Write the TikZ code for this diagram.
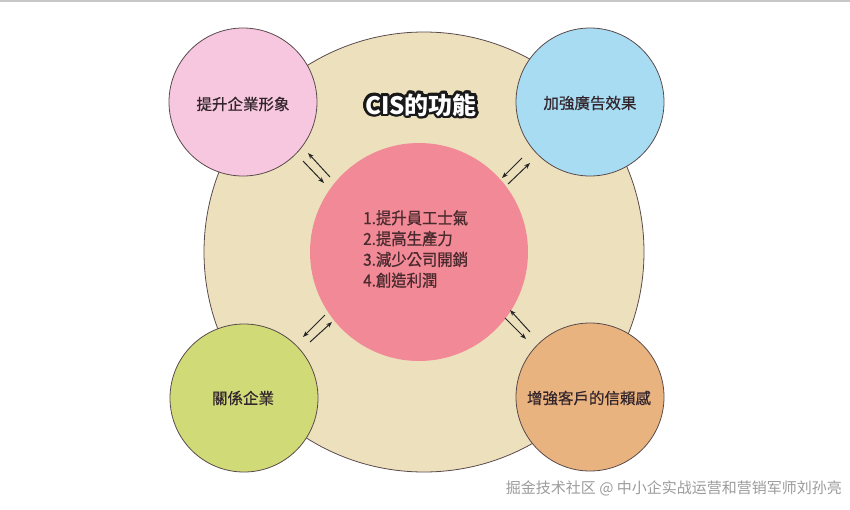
\documentclass[tikz,border=0pt]{standalone}
\usepackage{fontspec}
\newfontfamily\tcfont{Noto Sans CJK TC}
\newfontfamily\tcmed[FakeBold=0.6]{Noto Sans CJK TC}
\newfontfamily\tclist[FakeBold=0.9, FakeStretch=0.93]{Noto Sans CJK TC}
\newfontfamily\scfont{Noto Sans CJK SC}
\usetikzlibrary{arrows.meta}
\definecolor{beige}{HTML}{EDE1BD}
\definecolor{pinkl}{HTML}{F7C7DF}
\definecolor{bluel}{HTML}{A7DCF3}
\definecolor{greenl}{HTML}{D0DB78}
\definecolor{orangel}{HTML}{E9B37F}
\definecolor{pinkc}{HTML}{F18A96}
\definecolor{rim}{HTML}{5A4A4C}
\definecolor{ink}{HTML}{33252C}
\definecolor{listink}{HTML}{4A2A2E}
\definecolor{wm}{HTML}{9C9C9C}
\tikzset{
  ring/.style={circle, inner sep=0pt, draw=rim, line width=0.8pt},
  lbl/.style={font=\tcmed\fontsize{15.5}{18}\selectfont, text=ink, inner sep=0pt},
  ttl/.style={font=\tcfont\bfseries\fontsize{24}{28}\selectfont, inner sep=0pt},
  dbl/.style={draw=black!85, line width=1pt, -{Stealth[length=6pt,width=4.5pt]}},
}
\begin{document}
\begin{tikzpicture}[x=1pt,y=-1pt]
\useasboundingbox (0,0) rectangle (850,509);
\fill[white] (0,0) rectangle (850,509);
\draw[black!22, line width=1.5pt] (0,0.75) -- (850,0.75);
% circles
\node[ring, fill=beige, minimum size=440pt] (outer) at (424,252) {};
\node[ring, fill=pinkl, minimum size=148pt] (tl) at (243,102) {};
\node[ring, fill=bluel, minimum size=148pt] (tr) at (590,102) {};
\node[ring, fill=greenl, minimum size=148pt] (bl) at (244,398) {};
\node[ring, fill=orangel, minimum size=148pt] (br) at (590,397) {};
\node[circle, inner sep=0pt, fill=pinkc, minimum size=218pt] (core) at (419,252) {};
% labels
\node[lbl] (ltl) at (243,104) {提升企業形象};
\node[lbl] (ltr) at (590,103) {加強廣告效果};
\node[lbl] (lbl1) at (243,398) {關係企業};
\node[lbl] (lbr) at (589,398) {增強客戶的信賴感};
\node[inner sep=0pt, text=listink, align=left, font=\tclist\fontsize{16.5}{20.8}\selectfont, anchor=north west] (list) at (363,210)
  {1.提升員工士氣\\2.提高生產力\\3.減少公司開銷\\4.創造利潤};
% title with outline
\coordinate (tp) at (421,105);
\foreach \a in {0,15,...,345}
  \node[ttl, text=black!90] at ([shift={(\a:2.4)}]tp) {CIS的功能};
\node[ttl, text=white] (title) at (tp) {CIS的功能};
% arrows
\coordinate (a1s) at (330,177); \coordinate (a1e) at (308,153);
\coordinate (a2s) at (303,161); \coordinate (a2e) at (324,183);
\coordinate (b1s) at (522,158); \coordinate (b1e) at (502,178);
\coordinate (b2s) at (508,184); \coordinate (b2e) at (530,163);
\coordinate (c1s) at (325,315); \coordinate (c1e) at (303,337);
\coordinate (c2s) at (310,342); \coordinate (c2e) at (332,322);
\coordinate (d1s) at (530,332); \coordinate (d1e) at (510,310);
\coordinate (d2s) at (505,318); \coordinate (d2e) at (526,339);
\foreach \p in {a1,a2,b1,b2,c1,c2,d1,d2}
  \draw[dbl] (\p s) -- (\p e);
% watermark
\node[font=\scfont\fontsize{15}{18}\selectfont, text=wm, anchor=east, inner sep=0pt] (wmk) at (842,488)
  {掘金技术社区 @ 中小企实战运营和营销军师刘孙亮};
\end{tikzpicture}
\end{document}
